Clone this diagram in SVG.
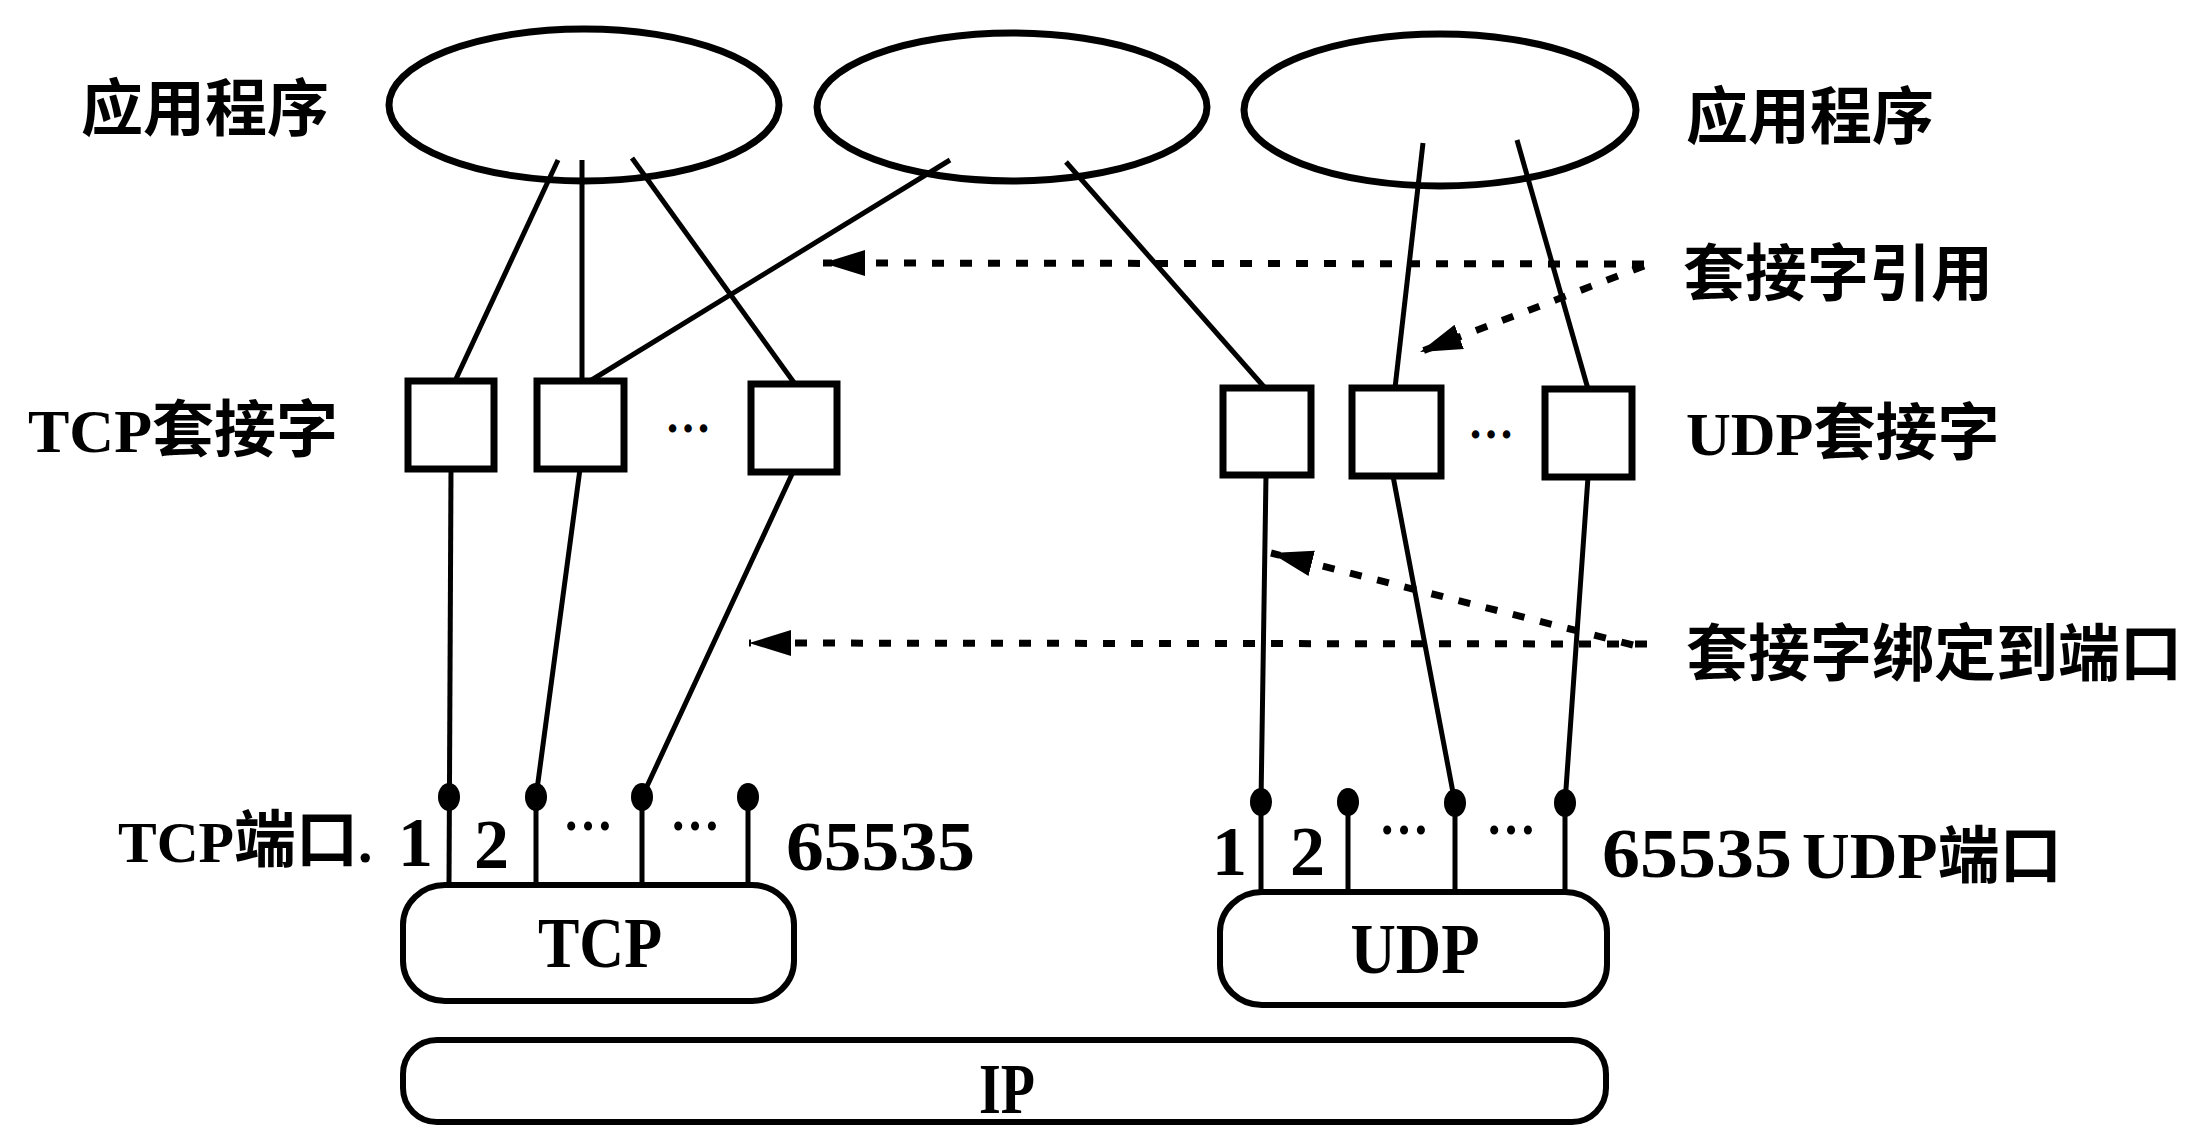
<svg xmlns="http://www.w3.org/2000/svg" width="2190" height="1129" viewBox="0 0 2190 1129">
<defs>
<style>
.bg{fill:#fff}
.ell{fill:none;stroke:#000;stroke-width:7}
.sq{fill:#fff;stroke:#000;stroke-width:7}
.box{fill:none;stroke:#000;stroke-width:6}
.ln{fill:none;stroke:#000;stroke-width:5;stroke-linejoin:round}
.dot{fill:none;stroke:#000;stroke-width:7;stroke-dasharray:12 16}
.pd{fill:#000}
.cjk{font-family:"Noto Sans CJK SC","Liberation Sans",sans-serif;font-weight:700;font-size:62px;fill:#000}
.lat{font-family:"Liberation Serif","Noto Sans CJK SC",serif;font-weight:700;fill:#000}
</style>
<marker id="ah" markerUnits="userSpaceOnUse" markerWidth="44" markerHeight="30" refX="42" refY="15" orient="auto">
<path d="M0,2 L42,15 L0,28 Z" fill="#000"/>
</marker>
</defs>
<rect class="bg" x="0" y="0" width="2190" height="1129"/>

<g id="app1"><ellipse class="ell" cx="584" cy="105" rx="195" ry="76"/></g>
<g id="app2"><ellipse class="ell" cx="1012" cy="107" rx="195" ry="74"/></g>
<g id="app3"><ellipse class="ell" cx="1440" cy="110" rx="196" ry="76"/></g>

<g id="tcp-sock1"><rect class="sq" x="408" y="381" width="86" height="88"/></g>
<g id="tcp-sock2"><rect class="sq" x="537" y="381" width="87" height="88"/></g>
<g id="tcp-sock3"><rect class="sq" x="751" y="384" width="86" height="88"/></g>
<g id="udp-sock1"><rect class="sq" x="1223" y="388" width="88" height="87"/></g>
<g id="udp-sock2"><rect class="sq" x="1352" y="388" width="89" height="88"/></g>
<g id="udp-sock3"><rect class="sq" x="1545" y="389" width="87" height="88"/></g>

<g id="tcp"><rect class="box" x="403" y="885" width="391" height="116" rx="42" ry="40"/>
<text class="lat" x="600" y="967" font-size="72" text-anchor="middle" textLength="124" lengthAdjust="spacingAndGlyphs">TCP</text></g>
<g id="udp"><rect class="box" x="1220" y="892" width="387" height="113" rx="42" ry="40"/>
<text class="lat" x="1415" y="973" font-size="72" text-anchor="middle" textLength="129" lengthAdjust="spacingAndGlyphs">UDP</text></g>
<g id="ip"><rect class="box" x="403" y="1040" width="1203" height="82" rx="34" ry="34"/>
<text class="lat" x="1007" y="1113" font-size="72" text-anchor="middle" textLength="56" lengthAdjust="spacingAndGlyphs">IP</text></g>

<g id="connectors">
<line class="ln" x1="558" y1="160" x2="455" y2="381"/>
<line class="ln" x1="582" y1="160" x2="582" y2="381"/>
<line class="ln" x1="632" y1="158" x2="795" y2="384"/>
<line class="ln" x1="950" y1="160" x2="590" y2="381"/>
<line class="ln" x1="1066" y1="162" x2="1265" y2="388"/>
<line class="ln" x1="1423" y1="143" x2="1395" y2="388"/>
<line class="ln" x1="1517" y1="140" x2="1588" y2="389"/>

<polyline class="ln" points="451,469 449,885"/>
<polyline class="ln" points="580,469 536,797 536,885"/>
<polyline class="ln" points="793,472 642,797 642,885"/>
<polyline class="ln" points="748,797 748,885"/>
<polyline class="ln" points="1266,475 1261,802 1261,892"/>
<polyline class="ln" points="1393,476 1455,803 1455,892"/>
<polyline class="ln" points="1588,477 1565,803 1565,892"/>
<polyline class="ln" points="1348,802 1348,892"/>

<ellipse class="pd" cx="449" cy="797" rx="11" ry="14"/>
<ellipse class="pd" cx="536" cy="797" rx="11" ry="14"/>
<ellipse class="pd" cx="642" cy="797" rx="11" ry="14"/>
<ellipse class="pd" cx="748" cy="797" rx="11" ry="14"/>
<ellipse class="pd" cx="1261" cy="802" rx="11" ry="14"/>
<ellipse class="pd" cx="1348" cy="802" rx="11" ry="14"/>
<ellipse class="pd" cx="1455" cy="803" rx="11" ry="14"/>
<ellipse class="pd" cx="1565" cy="803" rx="11" ry="14"/>

<line class="dot" x1="1644" y1="264" x2="823" y2="263" marker-end="url(#ah)"/>
<line class="dot" x1="1644" y1="266" x2="1420" y2="352" marker-end="url(#ah)"/>
<line class="dot" x1="1647" y1="644" x2="749" y2="643" marker-end="url(#ah)"/>
<line class="dot" x1="1633" y1="645" x2="1271" y2="553" marker-end="url(#ah)"/>
</g>

<g id="labels">
<text class="cjk" x="81" y="131">应用程序</text>
<text class="cjk" x="1686" y="139">应用程序</text>
<text class="cjk" x="1683" y="296">套接字引用</text>
<text x="28" y="452"><tspan class="lat" font-size="62">TCP</tspan><tspan class="cjk">套接字</tspan></text>
<text x="1686" y="455"><tspan class="lat" font-size="62">UDP</tspan><tspan class="cjk">套接字</tspan></text>
<text class="cjk" x="1686" y="676">套接字绑定到端口</text>
<text class="lat" x="665" y="432" font-size="50" textLength="46" lengthAdjust="spacingAndGlyphs">…</text>
<text class="lat" x="1468" y="438" font-size="50" textLength="46" lengthAdjust="spacingAndGlyphs">…</text>

<text x="118" y="862"><tspan class="lat" font-size="58">TCP</tspan><tspan class="cjk" font-size="60">端口</tspan><tspan class="lat" font-size="58">.</tspan></text>
<text class="lat" x="398" y="866" font-size="70">1</text>
<text class="lat" x="474" y="868" font-size="70">2</text>
<text class="lat" x="563" y="830" font-size="54" textLength="50" lengthAdjust="spacingAndGlyphs">…</text>
<text class="lat" x="670" y="830" font-size="54" textLength="50" lengthAdjust="spacingAndGlyphs">…</text>
<text class="lat" x="786" y="870" font-size="70" textLength="189" lengthAdjust="spacingAndGlyphs">65535</text>

<text class="lat" x="1212" y="875" font-size="70">1</text>
<text class="lat" x="1290" y="875" font-size="70">2</text>
<text class="lat" x="1379" y="834" font-size="54" textLength="50" lengthAdjust="spacingAndGlyphs">…</text>
<text class="lat" x="1486" y="834" font-size="54" textLength="50" lengthAdjust="spacingAndGlyphs">…</text>
<text class="lat" x="1602" y="877" font-size="70" textLength="190" lengthAdjust="spacingAndGlyphs">65535</text>
<text x="1802" y="878"><tspan class="lat" font-size="66">UDP</tspan><tspan class="cjk">端口</tspan></text>
</g>
</svg>
